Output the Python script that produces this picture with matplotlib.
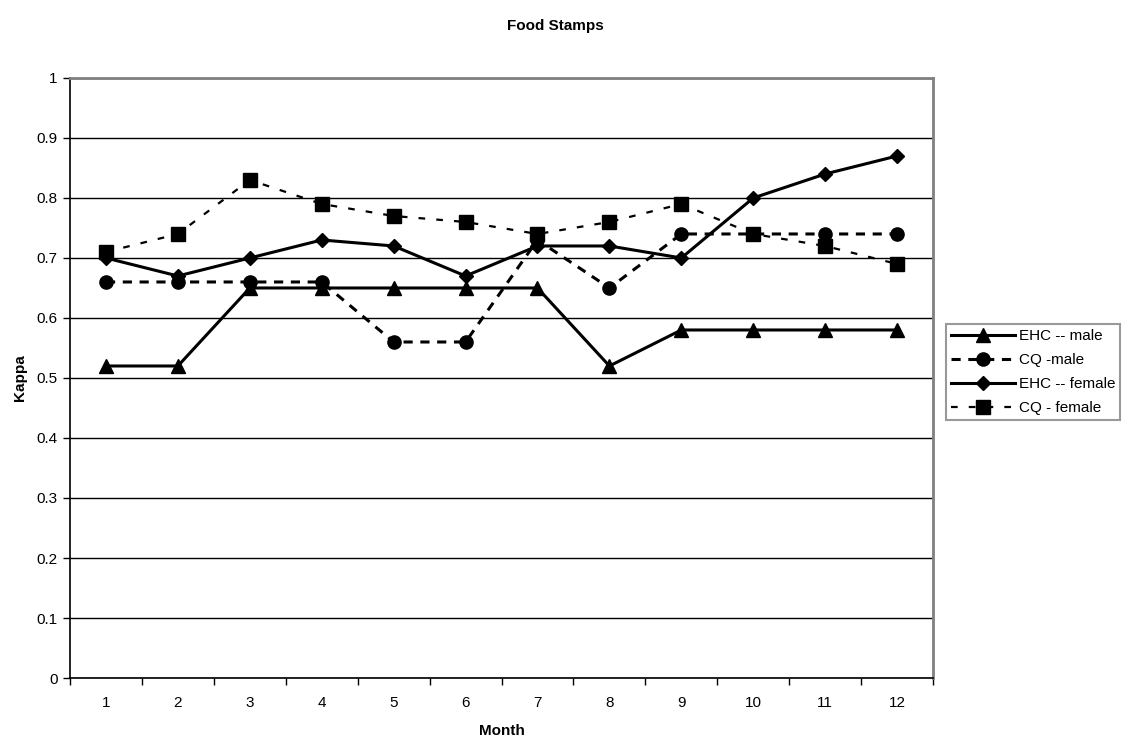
import numpy as np
import matplotlib
matplotlib.use("Agg")
import matplotlib.pyplot as plt

plt.rcParams['font.family'] = ['Liberation Sans', 'DejaVu Sans']
plt.rcParams['font.size'] = 11

months = np.arange(1, 13)
month_labels = [str(m) for m in months]

ehc_male = [0.52, 0.52, 0.65, 0.65, 0.65, 0.65, 0.65, 0.52, 0.58, 0.58, 0.58, 0.58]
cq_male = [0.66, 0.66, 0.66, 0.66, 0.56, 0.56, 0.73, 0.65, 0.74, 0.74, 0.74, 0.74]
ehc_female = [0.70, 0.67, 0.70, 0.73, 0.72, 0.67, 0.72, 0.72, 0.70, 0.80, 0.84, 0.87]
cq_female = [0.71, 0.74, 0.83, 0.79, 0.77, 0.76, 0.74, 0.76, 0.79, 0.74, 0.72, 0.69]

fig = plt.figure(figsize=(11.22, 7.44), dpi=100)
ax = fig.add_axes([0.0624, 0.0887, 0.7692, 0.8065])

ax.plot(months, ehc_male, color='black', lw=2.2, marker='^', ms=9.5,
        label='EHC -- male', zorder=3)
ax.plot(months, cq_male, color='black', lw=2.2, marker='o', ms=9.5,
        dashes=(3, 2.5), label='CQ -male', zorder=3)
ax.plot(months, ehc_female, color='black', lw=2.2, marker='D', ms=7.5,
        label='EHC -- female', zorder=3)
ax.plot(months, cq_female, color='black', lw=1.6, marker='s', ms=9.5,
        dashes=(3, 5), label='CQ - female', zorder=3)

# category axis: labels at the months, tick marks between them
ax.set_xlim(0.5, 12.5)
ax.set_xticks(np.arange(0.5, 13.0, 1.0))
ax.set_xticklabels([])
ax.set_xticks(months, minor=True)
ax.set_xticklabels(month_labels, minor=True)
ax.tick_params(axis='x', which='major', length=5, direction='out', width=1)
ax.tick_params(axis='x', which='minor', length=0, pad=13)

ax.set_ylim(0, 1)
ax.set_yticks(np.arange(0, 1.01, 0.1))
ax.set_yticklabels(['0'] + ['%.1f' % v for v in np.arange(0.1, 0.95, 0.1)] + ['1'])
ax.tick_params(axis='y', length=5, direction='out', width=1, pad=4)
ax.yaxis.grid(True, color='black', lw=1)
ax.set_axisbelow(True)

for side in ['top', 'right']:
    ax.spines[side].set_color('#808080')
    ax.spines[side].set_linewidth(2)
for side in ['left', 'bottom']:
    ax.spines[side].set_color('black')
    ax.spines[side].set_linewidth(1.2)

ax.set_xlabel('Month', fontweight='bold', labelpad=10)
ax.set_ylabel('Kappa', fontweight='bold', labelpad=7)
fig.text(0.495, 0.965, 'Food Stamps', ha='center', va='center',
         fontweight='bold', fontsize=11)

leg = ax.legend(loc='center left', bbox_to_anchor=(0.8431, 0.5), bbox_transform=fig.transFigure,
                frameon=True, fancybox=False, edgecolor='#808080', borderpad=0.35,
                handlelength=4.2, handletextpad=0.2, labelspacing=0.65, borderaxespad=0)
leg.get_frame().set_linewidth(1.5)

fig.savefig('out.png', dpi=100)
